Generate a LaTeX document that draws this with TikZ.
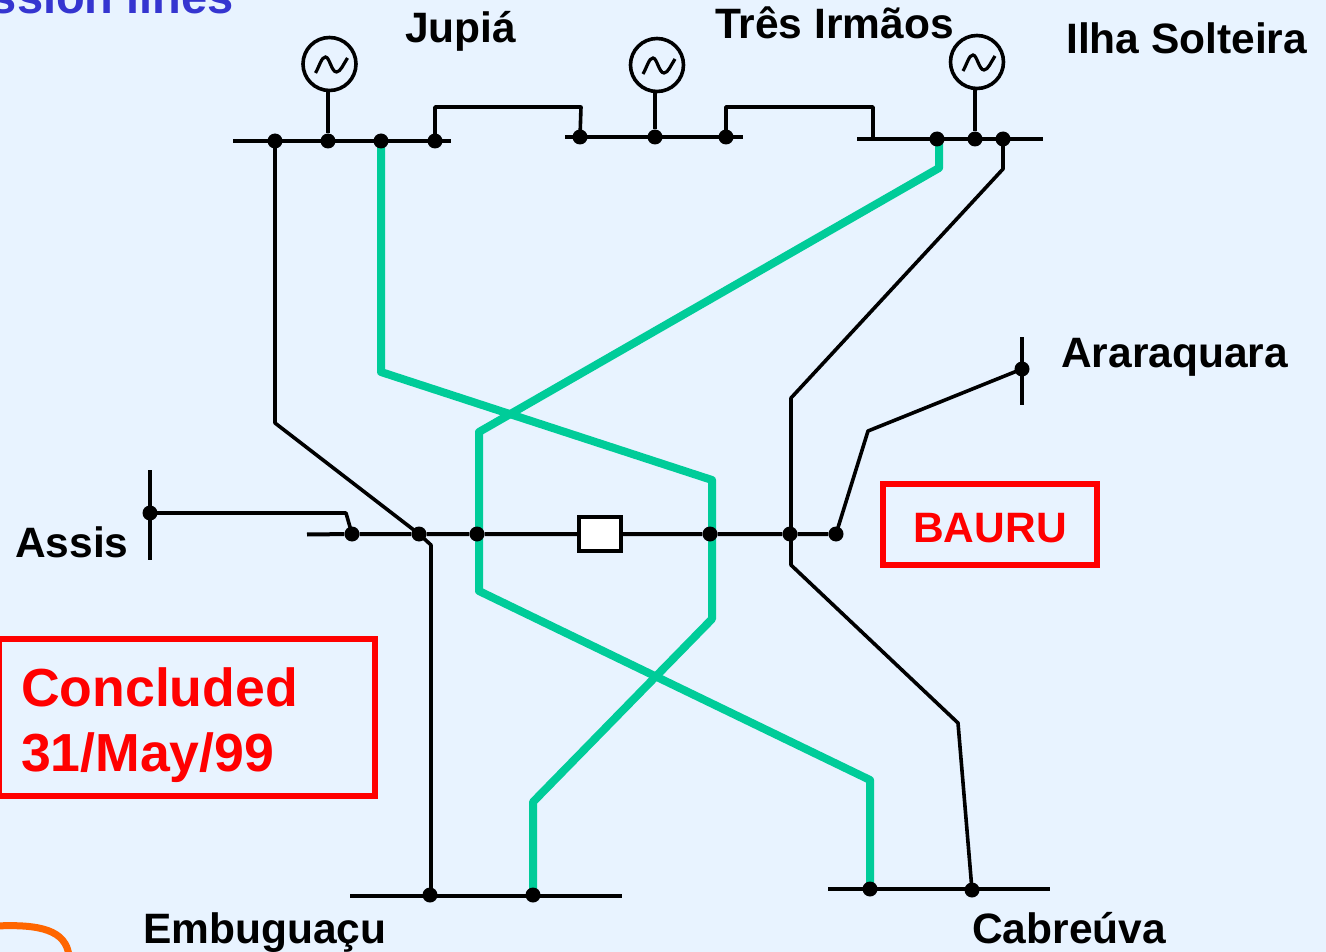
\documentclass[tikz,border=0pt]{standalone}
\usepackage{fontspec}
\setmainfont{Liberation Sans}
\usetikzlibrary{positioning}
\usetikzlibrary{backgrounds}
\definecolor{page blue}{HTML}{E8F3FF}
\definecolor{title blue}{HTML}{3535D0}
\definecolor{line green}{HTML}{00CC99}
\definecolor{loop orange}{HTML}{FF6600}
\tikzstyle{junction}=[fill=black,circle,minimum size=15pt,inner sep=0pt]
\tikzstyle{busbar}=[line width=4pt]
\tikzstyle{feeder}=[line width=3.6pt,line join=round]
\tikzstyle{trunk}=[line width=8pt,line join=round,line green]
\tikzstyle{station}=[anchor=base west,inner sep=0pt,font=\fontsize{42.5}{50}\selectfont\bfseries]
\tikzstyle{generator}=[draw,circle,line width=3.6pt,minimum size=53pt,inner sep=0pt,
  path picture={\draw[line width=3.2pt,shift={(path picture bounding box.center)}] (-14,9)
    .. controls (-10,2) and (-8,-7) .. (-4,-7) .. controls (0,-7) and (2,8) .. (7,8)
    .. controls (11,8) and (14,0) .. (18,-6);}]
\begin{document}
\begin{tikzpicture}[
  x=1pt,y=-1pt,
  warning/.style={draw=red,text=red,line width=6pt,inner sep=0pt,font=\bfseries},
]
  \path[use as bounding box] (0,0) rectangle (1326,952);
  % stations
  \node[station,text=title blue,anchor=base east,font=\fontsize{47}{50}\selectfont\bfseries] (title) at (234,14) {ssion lines};
  \node[station] (jupia) at (405,43) {Jupiá};
  \node[station] (tres) at (715,39) {Três Irmãos};
  \node[station] (ilha) at (1066,54) {Ilha Solteira};
  \node[station] (arara) at (1061,367) {Araraquara};
  \node[station] (assis) at (15,557) {Assis};
  \node[station] (embu) at (143,943) {Embuguaçu};
  \node[station] (cabre) at (972,943) {Cabreúva};
  \node[warning,minimum width=214pt,minimum height=81pt,text height=36.5pt,font=\fontsize{42.5}{50}\selectfont\bfseries] (bauru) at (990,524.5) {BAURU};
  \node[warning,text width=332pt,minimum width=376pt,minimum height=157pt,inner xsep=22pt,align=left,font=\fontsize{53.6}{65}\selectfont\bfseries] (done) at (187,717.5) {\rule{0pt}{55pt}Concluded\\31/May/99};
  % generators
  \node[generator] (g1) at (329.5,64) {};
  \node[generator] (g2) at (657,65) {};
  \node[generator] (g3) at (977,62) {};
  % junctions on the buses
  \node[junction] (j1) at (275,141) {};
  \node[junction] (j2) at (328,141) {};
  \node[junction] (j3) at (381,141) {};
  \node[junction] (j4) at (435,141) {};
  \node[junction] (t1) at (580,137) {};
  \node[junction] (t2) at (655,137) {};
  \node[junction] (t3) at (726,137) {};
  \node[junction] (i1) at (937,139) {};
  \node[junction] (i2) at (975,139) {};
  \node[junction] (i3) at (1003,139) {};
  \node[junction] (b1) at (352,534) {};
  \node[junction] (b2) at (419,534) {};
  \node[junction] (b3) at (477,534) {};
  \node[junction] (b4) at (710,534) {};
  \node[junction] (b5) at (790,534) {};
  \node[junction] (b6) at (836,534) {};
  \node[junction] (as) at (150,513) {};
  \node[junction] (ar) at (1022,369) {};
  \node[junction] (e1) at (430,895) {};
  \node[junction] (e2) at (533,895) {};
  \node[junction] (c1) at (870,889) {};
  \node[junction] (c2) at (972,890) {};
  \node[draw,fill=white,line width=3.6pt,minimum width=42pt,minimum height=34pt,inner sep=0pt] (tap) at (600,534) {};
  % bus ends
  \coordinate (jw) at (233,141);
  \coordinate (je) at (451,141);
  \coordinate (tw) at (565,137);
  \coordinate (te) at (743,137);
  \coordinate (iw) at (857,139);
  \coordinate (ie) at (1043,139);
  \coordinate (bw) at (307,534.5);
  \coordinate (ew) at (350,896);
  \coordinate (ee) at (622,896);
  \coordinate (cw) at (828,889);
  \coordinate (ce) at (1050,889);
  \coordinate (ast) at (150,470);
  \coordinate (asb) at (150,560);
  \coordinate (art) at (1022,337);
  \coordinate (arb) at (1022,405);
  \begin{scope}[on background layer]
    \fill[page blue] (0,0) rectangle (1326,952);
    \draw[loop orange,line width=7pt] (-4,926) .. controls (40,924) and (66,930) .. (69,956);
    % green lines
    \draw[trunk] (j3.center) -- (381,372) -- (712,480) -- (712,619) -- (533,802) -- (e2.center);
    \draw[trunk] (939,139) -- (939,168) -- (479,432) -- (479,591) -- (870,780) -- (c1.center);
    % buses
    \draw[busbar] (jw) -- (je);
    \draw[busbar] (tw) -- (te);
    \draw[busbar] (iw) -- (ie);
    \draw[busbar] (bw) -- (b1) -- (b2) -- (b3) -- (tap) -- (b4) -- (b5) -- (b6);
    \draw[busbar] (ew) -- (ee);
    \draw[busbar] (cw) -- (ce);
    \draw[busbar] (ast) -- (asb);
    \draw[busbar] (art) -- (arb);
    % black lines
    \draw[feeder] (j2) -- (j2 |- g1.south);
    \draw[feeder] (t2) -- (t2 |- g2.south);
    \draw[feeder] (i2) -- (i2 |- g3.south);
    \draw[feeder] (j4.center) -- (435,107) -- (581,107) -- (t1.center);
    \draw[feeder] (t3.center) -- (726,107) -- (873,107) -- (873,139);
    \draw[feeder] (j1.center) -- (275,423) -- (b2.center) -- (431,545) -- (431,895);
    \draw[feeder] (i3.center) -- (1003,169) -- (791,398) -- (791,565) -- (958,723) -- (c2.center);
    \draw[feeder] (as.center) -- (346,513) -- (b1.center);
    \draw[feeder] (ar.center) -- (868,431) -- (b6.center);
  \end{scope}
\end{tikzpicture}
\end{document}
